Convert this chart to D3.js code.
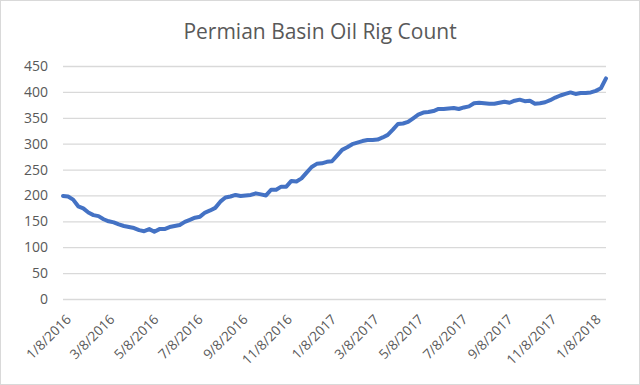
<!DOCTYPE html>
<html>
<head>
<meta charset="utf-8">
<script src="https://cdn.jsdelivr.net/npm/d3@7"></script>
<style>
  body { margin: 0; background: #fff; }
  #chart { width: 640px; height: 385px; }
</style>
</head>
<body>
<div id="chart"></div>
<script>
const title = "Permian Basin Oil Rig Count";

// weekly counts (Fridays), starting 1/8/2016
const firstWeek = "1/8/2016";
const rigCount = [
  199, 198, 192, 179, 175, 167, 162, 160, 154, 150,
  148, 144, 141, 139, 137, 133, 131, 135, 130, 135,
  135, 139, 141, 143, 149, 153, 157, 159, 167, 171,
  176, 188, 196, 198, 201, 199, 200, 201, 204, 202,
  200, 211, 211, 217, 217, 228, 227, 233, 244, 255,
  261, 262, 265, 266, 277, 288, 293, 299, 302, 305,
  307, 307, 308, 312, 317, 327, 338, 339, 342, 349,
  356, 360, 361, 363, 367, 367, 368, 369, 367, 370,
  372, 378, 379, 378, 377, 377, 379, 381, 379, 383,
  385, 382, 383, 377, 378, 380, 384, 389, 393, 396,
  399, 396, 398, 398, 399, 402, 407, 426
];

const xTickLabels = [
  "1/8/2016", "3/8/2016", "5/8/2016", "7/8/2016", "9/8/2016", "11/8/2016",
  "1/8/2017", "3/8/2017", "5/8/2017", "7/8/2017", "9/8/2017", "11/8/2017",
  "1/8/2018"
];
const yTicks = [0, 50, 100, 150, 200, 250, 300, 350, 400, 450];

const parseDate = d3.timeParse("%-m/%-d/%Y");
const start = parseDate(firstWeek);
const data = rigCount.map((v, i) => ({ date: d3.timeDay.offset(start, 7 * i), value: v }));

const w = 640, h = 385;
const margin = { left: 63, right: 34, top: 66, bottom: 86 };
const textColor = "#595959";
const gridColor = "#d9d9d9";
const font = "'Open Sans', sans-serif";

const svg = d3.select("#chart")
  .append("svg")
  .attr("width", w)
  .attr("height", h)
  .style("font-family", font);

// outer chart border
svg.append("rect")
  .attr("x", 0.5).attr("y", 0.5)
  .attr("width", w - 1).attr("height", h - 1)
  .attr("fill", "#fff")
  .attr("stroke", gridColor);

const xScale = d3.scaleTime()
  .domain(d3.extent(data, d => d.date))
  .range([margin.left, w - margin.right]);

const yScale = d3.scaleLinear()
  .domain([0, 450])
  .range([h - margin.bottom, margin.top]);

// gridlines + y labels
const yAxis = svg.append("g")
  .attr("transform", `translate(${margin.left},0)`)
  .call(d3.axisLeft(yScale)
    .tickValues(yTicks)
    .tickSize(-(w - margin.left - margin.right))
    .tickPadding(15));
yAxis.select(".domain").remove();
yAxis.selectAll(".tick line").attr("stroke", gridColor).attr("stroke-width", 1.3);
yAxis.selectAll("text")
  .attr("fill", textColor)
  .attr("font-size", "14px")
  .attr("font-family", font);

// x labels, rotated
const xAxis = svg.append("g")
  .attr("transform", `translate(0,${h - margin.bottom})`)
  .call(d3.axisBottom(xScale)
    .tickValues(xTickLabels.map(parseDate))
    .tickSize(0)
    .tickFormat(d3.timeFormat("%-m/%-d/%Y")));
xAxis.select(".domain").remove();
xAxis.selectAll("text")
  .attr("fill", textColor)
  .attr("font-size", "13.5px")
  .attr("font-family", font)
  .attr("text-anchor", "end")
  .attr("x", 0).attr("y", 0)
  .attr("dy", "0.35em")
  .attr("transform", "translate(5,18) rotate(-45)");

const line = d3.line()
  .x(d => xScale(d.date))
  .y(d => yScale(d.value));

svg.append("path")
  .datum(data)
  .attr("fill", "none")
  .attr("stroke", "#4472c4")
  .attr("stroke-width", 4)
  .attr("stroke-linejoin", "round")
  .attr("stroke-linecap", "round")
  .attr("d", line);

svg.append("text")
  .attr("x", w / 2)
  .attr("y", 39)
  .attr("text-anchor", "middle")
  .attr("fill", textColor)
  .attr("font-size", "21px")
  .attr("font-family", font)
  .text(title);
</script>
</body>
</html>
